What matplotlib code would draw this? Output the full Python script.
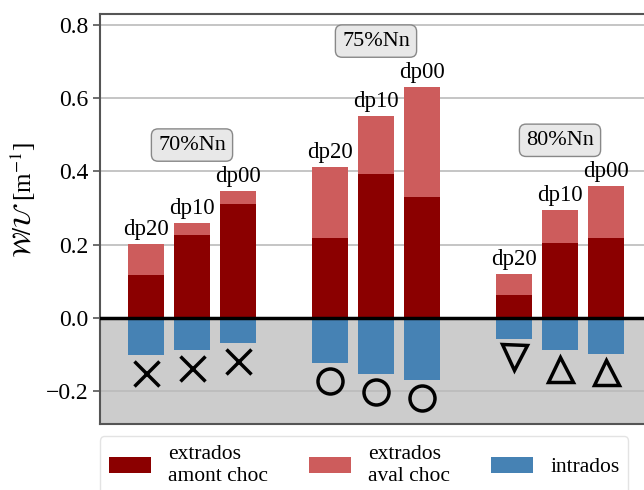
import numpy as np
import matplotlib
matplotlib.use('Agg')
import matplotlib.pyplot as plt

plt.rcParams['font.family'] = ['Liberation Serif', 'DejaVu Serif']
plt.rcParams['mathtext.fontset'] = 'stix'
plt.rcParams['font.size'] = 16

# --- data ---
groups = ['70%Nn', '75%Nn', '80%Nn']
cases = ['dp20', 'dp10', 'dp00']
amont = [0.117, 0.227, 0.311,
         0.218, 0.394, 0.330,
         0.063, 0.205, 0.218]
total = [0.202, 0.259, 0.347,
         0.412, 0.552, 0.631,
         0.120, 0.295, 0.360]
intrados = [-0.101, -0.087, -0.068,
            -0.123, -0.153, -0.169,
            -0.057, -0.089, -0.098]
markers = ['x', 'x', 'x', 'o', 'o', 'o', 'v', '^', '^']

aval = [t - a for t, a in zip(total, amont)]
pos = [g * 4 + i for g in range(len(groups)) for i in range(len(cases))]

fig = plt.figure(figsize=(6.44, 4.9), dpi=100)
ax = fig.add_axes([100 / 644, 66 / 490, 552 / 644, 410 / 490])

ax.axhspan(-0.29, 0, color='#cccccc', zorder=0)
ax.grid(True, axis='y', color='#bbbbbb', linewidth=1.2, zorder=0.5)
ax.set_axisbelow(True)

w = 0.8
ax.bar(pos, amont, w, color='darkred', label='extrados\namont choc', zorder=2)
ax.bar(pos, aval, w, bottom=amont, color='indianred', label='extrados\naval choc', zorder=2)
ax.bar(pos, intrados, w, color='steelblue', label='intrados', zorder=2)
ax.axhline(0, color='black', linewidth=2.5, zorder=3)

for x, t, b, m in zip(pos, total, intrados, markers):
    ax.text(x, t + 0.01, cases[x % 4], ha='center', va='bottom', fontsize=16.5)
    ax.plot(x, b - 0.05, marker=m, markersize=18, markeredgewidth=2.5,
            color='black', fillstyle='none', zorder=4, linestyle='none')

for g, name in enumerate(groups):
    top = max(total[g * 3:g * 3 + 3])
    ax.text(g * 4 + 1, top + 0.125, name, ha='center', va='center', fontsize=16,
            bbox=dict(boxstyle='round,pad=0.3', fc='#e8e8e8', ec='#888888'))

ax.set_xlim(-1, 11)
ax.set_ylim(-0.29, 0.83)
ax.set_xticks([])
ax.set_yticks([-0.2, 0.0, 0.2, 0.4, 0.6, 0.8])
ax.set_ylabel(r'$\mathcal{W}/\mathcal{U}$ [m$^{-1}$]', fontsize=18)
ax.yaxis.set_label_coords(-0.112, 0.546)
ax.tick_params(axis='y', color='#555555', length=5, width=1.2, labelsize=17)
for s in ax.spines.values():
    s.set_color('#555555')
    s.set_linewidth(1.5)

leg = ax.legend(loc='upper left', bbox_to_anchor=(0, -0.03), ncol=3, fontsize=15.5,
                handlelength=1.95, handleheight=0.75, handletextpad=0.8,
                columnspacing=1.9, borderaxespad=0, frameon=True,
                edgecolor='#dddddd')
for t in leg.get_texts():
    t.set_linespacing(1.2)

fig.savefig('out.png', dpi=100)
